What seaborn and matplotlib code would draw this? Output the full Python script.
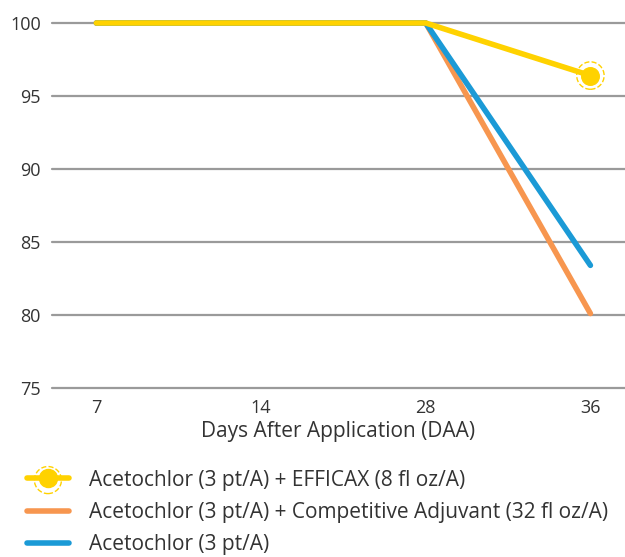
import pandas as pd
import matplotlib.pyplot as plt
import seaborn as sns
from matplotlib.lines import Line2D
from matplotlib.legend_handler import HandlerTuple

# datos
dias = ["7", "14", "28", "36"]
efficax = [100, 100, 100, 96.4]
competidor = [100, 100, 100, 80.1]
solo = [100, 100, 100, 83.4]

series = [
    "Acetochlor (3 pt/A) + EFFICAX (8 fl oz/A)",
    "Acetochlor (3 pt/A) + Competitive Adjuvant (32 fl oz/A)",
    "Acetochlor (3 pt/A)",
]
colores = ["#FFD200", "#F7964F", "#1B9AD6"]

df = pd.DataFrame({
    "DAA": dias * 3,
    "Control": efficax + competidor + solo,
    "Tratamiento": [s for s in series for _ in dias],
})

sns.set_style("white")
plt.rcParams["font.family"] = ["Open Sans", "DejaVu Sans"]

fig = plt.figure(figsize=(6.25, 5.57), dpi=100)
ax = fig.add_axes([0.083, 0.3034, 0.917, 0.6553])

for y in [75, 80, 85, 90, 95, 100]:
    ax.axhline(y, color="#9a9a9a", lw=1.6, zorder=0)

# dibujar en orden: naranja, azul, amarillo encima
for serie, color in [(series[1], colores[1]), (series[2], colores[2]), (series[0], colores[0])]:
    sub = df[df["Tratamiento"] == serie]
    sns.lineplot(data=sub, x="DAA", y="Control", color=color, lw=4.0,
                 ax=ax, legend=False, solid_capstyle="round")
for l in ax.lines:
    l.set_clip_on(False)

ult = df[df["Tratamiento"] == series[0]].iloc[-1:]
ax.scatter([3], ult["Control"], s=160, color=colores[0], zorder=5, clip_on=False)
ax.scatter([3], ult["Control"], s=390, facecolors="none", edgecolors=colores[0],
           linestyles="--", linewidths=1.0, zorder=5, clip_on=False)

ax.set_xlim(-0.27, 3.21)
ax.set_ylim(75, 100)
ax.set_yticks([75, 80, 85, 90, 95, 100])
ax.set_xticks(range(len(dias)))
ax.set_xticklabels(dias)
ax.set_xlabel("Days After Application (DAA)", fontsize=15, color="#333333", labelpad=3)
ax.set_ylabel("")
ax.tick_params(axis="both", length=0, labelsize=13, labelcolor="#333333")
ax.tick_params(axis="y", pad=8)
ax.tick_params(axis="x", pad=8)
sns.despine(ax=ax, left=True, bottom=True)

# leyenda
linea_y = Line2D([], [], color=colores[0], lw=4.0)
punto_y = Line2D([], [], color=colores[0], marker="o", markersize=13, lw=0)
anillo = ax.scatter([], [], s=380, facecolors="none", edgecolors=colores[0],
                    linestyles="--", linewidths=1.0)
h_naranja = Line2D([], [], color=colores[1], lw=4.0)
h_azul = Line2D([], [], color=colores[2], lw=4.0)
fig.legend([(linea_y, punto_y, anillo), h_naranja, h_azul], series,
           handler_map={tuple: HandlerTuple(ndivide=1, pad=0)},
           loc="upper left", bbox_to_anchor=(0.03, 0.172), frameon=False,
           fontsize=15, labelcolor="#333333", handlelength=2.0,
           handletextpad=0.95, labelspacing=0.55, borderaxespad=0)

fig.savefig("out.png", dpi=100)
